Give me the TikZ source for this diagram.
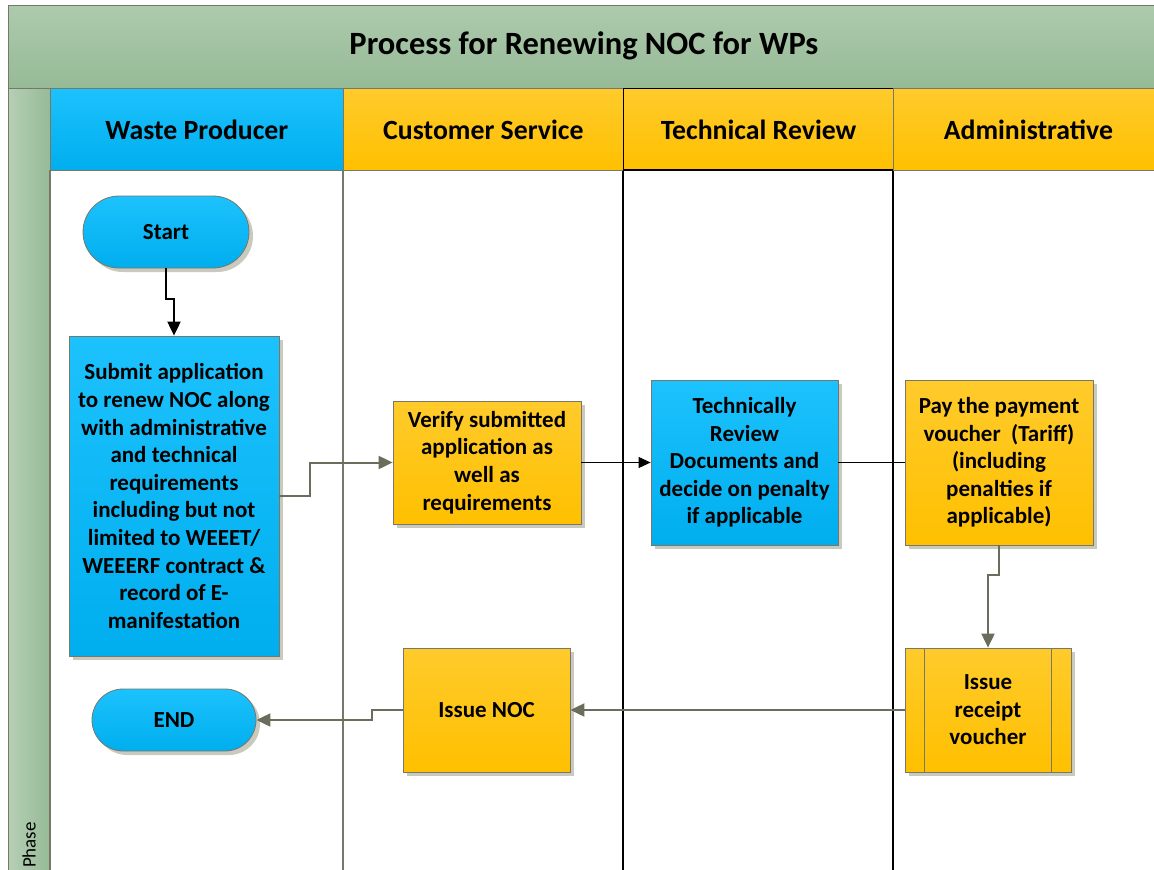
\documentclass[tikz,border=0pt]{standalone}
\usepackage{fontspec}
\setmainfont{Carlito}
\usetikzlibrary{shapes.misc,arrows.meta,shadows,calc}
\definecolor{blueTop}{HTML}{1CC2FD}
\definecolor{blueBot}{HTML}{00AEEE}
\definecolor{oraTop}{HTML}{FFCB2C}
\definecolor{oraBot}{HTML}{FFC000}
\definecolor{grnTop}{HTML}{ADCAAD}
\definecolor{grnBot}{HTML}{96BA96}
\definecolor{edge}{HTML}{77776A}
\definecolor{conn}{HTML}{6A6D5B}
\definecolor{shad}{HTML}{C9CABD}
\tikzset{
  x=1pt, y=-1pt,
  box/.style={draw=edge, line width=0.8pt, align=center, font=\fontsize{23}{27.6}\selectfont\bfseries,
    inner sep=1pt, drop shadow={shadow xshift=4pt, shadow yshift=-4pt, fill=shad, opacity=1}},
  bluebox/.style={box, top color=blueTop, bottom color=blueBot},
  orabox/.style={box, top color=oraTop, bottom color=oraBot},
  term/.style={bluebox, rounded rectangle},
  hdr/.style={draw=edge, line width=0.8pt, font=\fontsize{27.8}{30}\selectfont\bfseries, inner sep=0pt},
  gline/.style={conn, line width=2pt, -{Triangle[length=14pt,width=13pt]}},
  kline/.style={black, line width=2pt, -{Triangle[length=14pt,width=13pt]}},
}
\begin{document}
\begin{tikzpicture}
\useasboundingbox (0,0) rectangle (1154,870);
\fill[white] (0,0) rectangle (1154,870);
% title band
\node[hdr, top color=grnTop, bottom color=grnBot, minimum width=1160pt, minimum height=83pt, anchor=north west] (title) at (8,5) {};
\node[font=\fontsize{32.5}{36}\selectfont\bfseries] (titletext) at (584,46) {Process for Renewing NOC for WPs};
% phase column
\node[hdr, left color=grnTop!90!white, right color=grnBot, minimum width=42pt, minimum height=800pt, anchor=north west] (phase) at (8,88) {};
\node[rotate=90, font=\fontsize{19}{21}\selectfont] (phasetext) at (29,845) {Phase};
% lane headers
\node[hdr, top color=blueTop, bottom color=blueBot, minimum width=293pt, minimum height=82pt, anchor=north west] (h1) at (50,88) {Waste Producer};
\node[hdr, top color=oraTop, bottom color=oraBot, minimum width=280pt, minimum height=82pt, anchor=north west] (h2) at (343,88) {Customer Service};
\node[hdr, top color=oraTop, bottom color=oraBot, minimum width=270pt, minimum height=82pt, anchor=north west, draw=black, line width=1.2pt] (h3) at (623,88) {Technical Review};
\node[hdr, top color=oraTop, bottom color=oraBot, minimum width=270pt, minimum height=82pt, anchor=north west] (h4) at (893,88) {Administrative};
% lane lines
\draw[edge, line width=1.2pt] (343,170) -- (343,875);
\draw[black, line width=1.2pt] (623,170) -- (623,875);
\draw[black, line width=1.2pt] (893,170) -- (893,875);
\draw[edge, line width=1.2pt] (50,170) -- (50,875);
\draw[edge, line width=0.8pt] (50,170) -- (1160,170);
\draw[black, line width=1.2pt] (623,170) -- (893,170);
% nodes
\node[term, minimum width=168pt, minimum height=72pt] (start) at (166,232) {Start};
\node[bluebox, minimum width=210pt, minimum height=320pt] (submit) at (174,496)
  {Submit application\\to renew NOC along\\with administrative\\and technical\\requirements\\including but not\\limited to WEEET/\\WEEERF contract \&\\record of E-\\manifestation};
\node[orabox, minimum width=188pt, minimum height=123pt] (verify) at (487,462.5)
  {Verify submitted\\application as\\well as\\requirements};
\node[bluebox, minimum width=187pt, minimum height=165pt] (tech) at (744.5,462.5)
  {Technically\\Review\\Documents and\\decide on penalty\\if applicable};
\node[orabox, minimum width=188pt, minimum height=165pt] (pay) at (999,462.5)
  {Pay the payment\\voucher~ (Tariff)\\(including\\penalties if\\applicable)};
\node[orabox, minimum width=166pt, minimum height=124pt] (receipt) at (988,710)
  {Issue\\receipt\\voucher};
\draw[edge, line width=0.8pt] ($(receipt.north west)+(20,0)$) -- ($(receipt.south west)+(20,0)$);
\draw[edge, line width=0.8pt] ($(receipt.north east)+(-20,0)$) -- ($(receipt.south east)+(-20,0)$);
\node[orabox, minimum width=167pt, minimum height=124pt] (noc) at (486.5,710) {Issue NOC};
\node[term, minimum width=166pt, minimum height=62pt] (end) at (174,720) {END};
% connectors
\draw[kline] (start.south) -- ++(0,31) -| (submit.north);
\draw[gline] (submit.east) -- ++(31,0) |- (verify.west);
\draw[black, line width=1pt, -{Triangle[length=12pt,width=11pt]}] (verify.east) -- (tech.west);
\draw[black, line width=1pt] (tech.east) -- (pay.west);
\draw[gline] (pay.south) -- ++(0,30) -| (receipt.north);
\draw[gline] (receipt.west) -- (noc.east);
\draw[gline] (noc.west) -- ++(-31,0) |- (end.east);
\end{tikzpicture}
\end{document}
